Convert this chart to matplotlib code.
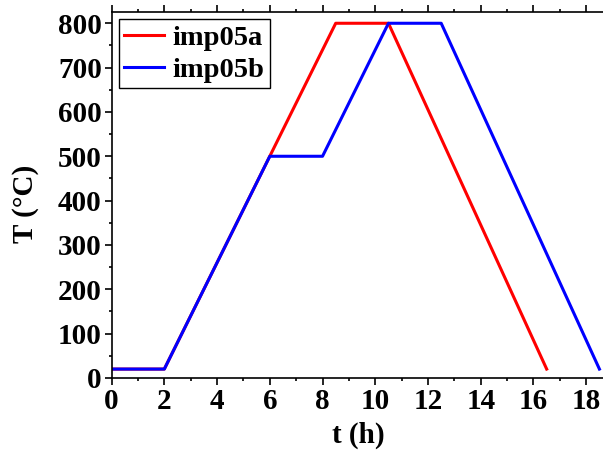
import numpy as np
import matplotlib.pyplot as plt
from matplotlib.ticker import MultipleLocator

# --- données ---
t_a = [0, 2, 8.5, 10.5, 16.5]
T_a = [20, 20, 800, 800, 20]
t_b = [0, 2, 6, 8, 10.5, 12.5, 18.5]
T_b = [20, 20, 500, 500, 800, 800, 20]

plt.rcParams['font.family'] = ['Liberation Serif', 'DejaVu Serif']
plt.rcParams['font.weight'] = 'bold'

fig = plt.figure(figsize=(6.03, 4.51), dpi=100)
ax = fig.add_axes([0.185, 0.162, 0.82, 0.811])

ax.plot(t_a, T_a, color='red', lw=2.2, label='imp05a')
ax.plot(t_b, T_b, color='blue', lw=2.2, label='imp05b')

ax.set_xlim(0, 18.75)
ax.set_ylim(0, 825)
ax.xaxis.set_major_locator(MultipleLocator(2))
ax.xaxis.set_minor_locator(MultipleLocator(1))
ax.yaxis.set_major_locator(MultipleLocator(100))
ax.yaxis.set_minor_locator(MultipleLocator(50))
ax.tick_params(which='both', direction='out', labelsize=21, width=1.2, pad=2)
ax.tick_params(which='major', length=5)
ax.tick_params(which='minor', length=2.5)
ax.tick_params(axis='x', which='both', top=True, labeltop=False)
for s in ax.spines.values():
    s.set_linewidth(1.2)

ax.set_xlabel('t (h)', fontsize=21, fontweight='bold', labelpad=5)
ax.set_ylabel('T (°C)', fontsize=21, fontweight='bold')
ax.yaxis.set_label_coords(-0.146, 0.475)

leg = ax.legend(loc='upper left', fontsize=20.5, fancybox=False, framealpha=1,
                edgecolor='black', handlelength=1.4, borderpad=0.2,
                labelspacing=0.2, handletextpad=0.3, borderaxespad=0.25)
leg.get_frame().set_linewidth(1.0)

fig.savefig('out.png', dpi=100)
